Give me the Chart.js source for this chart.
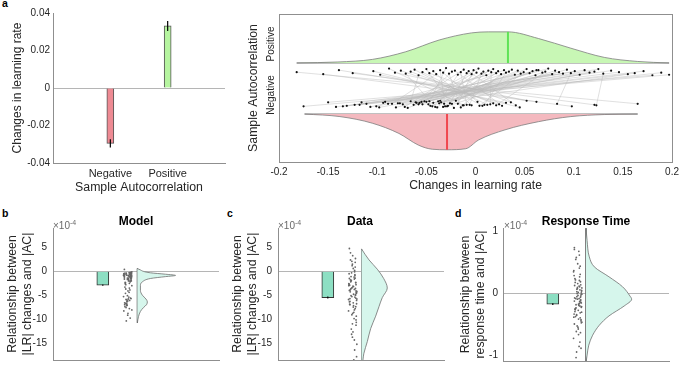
<!DOCTYPE html>
<html>
<head>
<meta charset="utf-8">
<script src="https://cdn.jsdelivr.net/npm/chart.js@4.4.1/dist/chart.umd.min.js"></script>
<style>
  body { margin: 0; background: #fff; width: 683px; height: 372px; position: relative; overflow: hidden;
         font-family: "Liberation Sans", Arial, Helvetica, sans-serif; }
  canvas { position: absolute; }
  .letter { position: absolute; font-weight: bold; font-size: 10.5px; line-height: 10.5px; color: #000; }
  .ttl { position: absolute; font-weight: bold; font-size: 12px; line-height: 12px; color: #000;
         transform: translateX(-50%); white-space: nowrap; }
  .exp { position: absolute; font-size: 10px; line-height: 10px; color: #6a6a6a; white-space: nowrap; }
  .exp sup { font-size: 7px; vertical-align: 4px; }
</style>
</head>
<body>
<div class="letter" style="left:2px;top:-2px">a</div>
<div class="letter" style="left:2px;top:208px">b</div>
<div class="letter" style="left:227px;top:208px">c</div>
<div class="letter" style="left:455px;top:208px">d</div>

<canvas id="a1" width="238" height="196" style="left:0;top:0"></canvas>
<canvas id="a2" width="443" height="200" style="left:240px;top:0"></canvas>
<canvas id="pb" width="228" height="172" style="left:0;top:200px"></canvas>
<canvas id="pc" width="228" height="172" style="left:225px;top:200px"></canvas>
<canvas id="pd" width="228" height="172" style="left:453px;top:200px"></canvas>

<div class="ttl" style="left:136px;top:215px">Model</div>
<div class="ttl" style="left:360px;top:215px">Data</div>
<div class="ttl" style="left:586px;top:215px">Response Time</div>
<div class="exp" style="left:53px;top:218px">&times;10<sup>-4</sup></div>
<div class="exp" style="left:278px;top:218px">&times;10<sup>-4</sup></div>
<div class="exp" style="left:504px;top:218px">&times;10<sup>-4</sup></div>

<script>
// panel a, bars
const acLabels = ['Negative', 'Positive'];
const lrChange = [-0.0295, 0.0331];
const lrErr = [0.0022, 0.0027];

// panel a, raincloud: one entry per subject (positive and negative block)
const posChange = [-0.182, -0.155, -0.139, -0.125, -0.104, -0.097, -0.088, -0.082, -0.076, -0.071,
  -0.066, -0.062, -0.058, -0.054, -0.05, -0.047, -0.043, -0.04, -0.036, -0.033,
  -0.03, -0.027, -0.024, -0.021, -0.018, -0.015, -0.012, -0.009, -0.007, -0.004,
  -0.002, 0.001, 0.003, 0.006, 0.008, 0.011, 0.013, 0.016, 0.018, 0.021,
  0.023, 0.026, 0.029, 0.031, 0.034, 0.037, 0.04, 0.043, 0.046, 0.049,
  0.052, 0.055, 0.058, 0.061, 0.064, 0.068, 0.071, 0.074, 0.078, 0.081,
  0.085, 0.089, 0.093, 0.097, 0.101, 0.106, 0.111, 0.116, 0.121, 0.125,
  0.13, 0.138, 0.146, 0.155, 0.162, 0.171, 0.18, 0.189, 0.197, 0.062];
const negChange = [0.165, 0.098, 0.062, 0.121, 0.045, 0.031, -0.012, 0.052, 0.024, -0.041,
  0.018, 0.007, -0.066, 0.012, -0.022, 0.036, -0.004, -0.085, -0.031, 0.002,
  -0.048, -0.015, -0.057, 0.027, -0.036, -0.009, -0.072, -0.026, 0.041, -0.052,
  -0.018, -0.044, -0.061, -0.006, -0.039, -0.094, -0.028, 0.015, -0.055, -0.033,
  -0.077, -0.013, -0.047, 0.009, -0.069, -0.024, -0.101, -0.035, -0.058, 0.004,
  -0.043, -0.081, -0.02, -0.063, -0.107, -0.037, 0.021, -0.05, -0.089, -0.029,
  -0.074, -0.116, -0.046, 0.083, -0.098, -0.06, -0.123, -0.038, -0.135, -0.079,
  0.123, -0.092, -0.142, -0.054, -0.111, -0.131, -0.15, -0.118, -0.175, -0.032];
const posRow = [1.82, 1.78, 1.86, 1.80, 1.84, 1.77, 1.89, 1.81, 1.85, 1.79,
  1.83, 1.87, 1.76, 1.82, 1.88, 1.80, 1.84, 1.78, 1.86, 1.81,
  1.9, 1.79, 1.83, 1.85, 1.77, 1.82, 1.87, 1.8, 1.84, 1.78,
  1.86, 1.81, 1.89, 1.79, 1.83, 1.76, 1.85, 1.82, 1.88, 1.8,
  1.84, 1.78, 1.86, 1.81, 1.83, 1.87, 1.77, 1.85, 1.79, 1.82,
  1.88, 1.8, 1.84, 1.76, 1.86, 1.81, 1.83, 1.89, 1.78, 1.85,
  1.82, 1.79, 1.87, 1.8, 1.84, 1.77, 1.86, 1.81, 1.83, 1.88,
  1.79, 1.85, 1.82, 1.78, 1.8, 1.84, 1.76, 1.81, 1.77, 1.86];
const negRow = [1.2, 1.15, 1.24, 1.18, 1.13, 1.22, 1.17, 1.26, 1.19, 1.14,
  1.21, 1.16, 1.25, 1.18, 1.12, 1.23, 1.17, 1.2, 1.15, 1.24,
  1.19, 1.13, 1.22, 1.16, 1.26, 1.18, 1.14, 1.21, 1.17, 1.25,
  1.2, 1.15, 1.23, 1.18, 1.13, 1.22, 1.16, 1.19, 1.24, 1.14,
  1.21, 1.17, 1.25, 1.18, 1.12, 1.2, 1.15, 1.23, 1.19, 1.16,
  1.22, 1.13, 1.26, 1.18, 1.14, 1.21, 1.17, 1.24, 1.2, 1.15,
  1.19, 1.23, 1.16, 1.2, 1.13, 1.22, 1.18, 1.25, 1.15, 1.21,
  1.17, 1.24, 1.14, 1.19, 1.2, 1.16, 1.23, 1.18, 1.15, 1.2];
// half violins (density heights)
const posDensX = [-0.182, -0.14, -0.105, -0.071, -0.037, -0.004, 0.013, 0.033, 0.064, 0.097, 0.131, 0.165, 0.197];
const posDens = [0, 0.02, 0.07, 0.22, 0.45, 0.59, 0.61, 0.61, 0.48, 0.29, 0.11, 0.03, 0];
const negDensX = [-0.174, -0.138, -0.105, -0.078, -0.058, -0.044, -0.029, -0.01, 0.003, 0.03, 0.064, 0.097, 0.131, 0.165];
const negDens = [0, 0.05, 0.18, 0.38, 0.61, 0.69, 0.7, 0.68, 0.51, 0.31, 0.15, 0.05, 0.01, 0];
const posMedian = 0.033;
const negMedian = -0.029;

// panels b-d (values in units of 1e-4)
const barMeans = [-2.9, -5.5, -0.17];
const barErrs = [0.12, 0.2, 0.015];
const jitter = [-0.12, 0.05, 0.14, -0.03, 0.09, -0.14, 0.02, 0.11, -0.07, 0.13,
  -0.01, 0.06, -0.1, 0.08, -0.05, 0.12, 0.0, -0.13, 0.04, 0.1,
  -0.08, 0.15, -0.02, 0.07, -0.11, 0.03, 0.13, -0.06, 0.09, -0.15,
  0.01, 0.11, -0.04, 0.14, -0.09, 0.06, -0.12, 0.02, 0.1, -0.07,
  0.12, -0.03, 0.08, -0.14, 0.05, 0.13, -0.01, 0.09, -0.1, 0.03,
  0.15, -0.06, 0.07, -0.12, 0.0, 0.11, -0.08, 0.14, -0.04, 0.06,
  -0.13, 0.02, 0.1, -0.05, 0.12, -0.11, 0.04, 0.08, -0.02, 0.14,
  -0.09, 0.01, 0.11, -0.15, 0.07, -0.06, 0.13, -0.03, 0.09, -0.12,
  0.05, 0.1, -0.08, 0.03, 0.15, -0.01, 0.12, -0.1, 0.06, -0.04];
const modelY = [0.4, -0.3, -1.2, -0.8, -2.1, -0.5, -1.6, -0.9, -2.8, -0.2,
  -1.4, -0.7, -3.3, -1.1, -0.4, -1.9, -6.2, -0.6, -5.4, -1.3,
  -2.4, -0.1, -7.1, -1.0, -6.6, -1.7, -0.3, -5.9, -2.2, -0.8,
  -4.1, -1.5, -6.9, -0.5, -2.6, -7.8, -1.2, -0.9, -5.6, -3.7,
  -1.8, -6.4, -0.6, -8.3, -1.1, -2.0, -5.1, -0.2, -7.4, -1.4,
  -3.0, -0.7, -6.1, -1.6, -9.2, -0.4, -4.6, -1.0, -6.8, -2.5,
  -0.9, -5.8, -1.3, -10.4, -0.5, -7.0, -1.9, -3.9, -6.3, -0.8,
  -2.3, -8.8, -1.2, -5.3, -0.3, -7.6, -1.5, -6.0, -9.8, -1.1,
  -4.4, -0.6, -6.7, -2.0, -8.1, -1.7, -5.7, -0.4, -3.5, -7.2];
const dataY = [4.8, -1.2, -4.5, 2.1, -7.8, -3.0, 0.6, -5.6, -2.2, -9.4,
  1.5, -3.8, -6.3, -0.7, -12.1, -4.1, 3.3, -2.7, -8.6, -5.0,
  -1.8, -15.3, -3.4, 0.2, -6.9, -4.8, -10.7, -2.0, 1.9, -5.9,
  -3.1, -7.4, -0.3, -17.9, -4.3, -8.1, -1.5, -6.6, 2.7, -3.7,
  -11.3, -5.3, -0.9, -2.6, -9.9, -4.6, -13.8, 0.9, -7.0, -3.2,
  -5.8, -1.1, -16.5, -4.0, -8.8, -2.4, 3.9, -6.1, -3.5, -14.4,
  -0.5, -7.5, -4.9, -1.9, -10.2, -2.9, -18.6, -5.4, 1.2, -6.8,
  -3.9, -12.7, -2.3, -8.3, -0.1, -5.1, -4.4, -9.1, -1.4, -6.4,
  -19.0, -3.6, 2.4, -7.2, -4.2, -11.0, -2.8, -5.7, -1.6, -13.2];
const rtY = [0.74, 0.12, -0.21, -0.05, 0.31, -0.38, 0.02, -0.14, 0.55, -0.47,
  -0.09, 0.21, -0.29, 0.06, -0.61, -0.02, 0.16, -0.33, 0.68, -0.11,
  -0.24, 0.09, -0.52, 0.27, -0.07, -0.41, 0.01, -0.18, 0.44, -0.72,
  -0.03, 0.14, -0.35, 0.05, -0.26, 0.62, -0.12, -0.57, 0.19, -0.08,
  -0.44, 0.03, -0.2, 0.37, -0.85, -0.15, 0.08, -0.31, 0.24, -0.66,
  -0.01, -0.23, 0.11, -0.49, 0.48, -0.1, -0.37, 0.04, -0.94, -0.16,
  0.29, -0.27, -0.06, 0.58, -0.42, 0.13, -0.19, -0.78, 0.0, -0.3,
  0.18, -0.54, -0.04, 0.35, -0.13, -1.03, -0.22, 0.07, -0.39, 0.71,
  -0.08, -0.63, 0.22, -0.17, -0.46, 0.1, -0.88, -0.25, 0.41, -0.34];
const modelVioY = [0.6, 0.3, 0.0, -0.3, -0.6, -0.85, -1.1, -1.5, -2.2, -3.0, -4.0, -5.0, -5.8, -6.4, -7.0, -7.6, -8.4, -9.5, -10.8];
const modelVioW = [0, 0.11, 0.22, 0.47, 1.02, 1.38, 1.02, 0.47, 0.18, 0.11, 0.11, 0.18, 0.31, 0.36, 0.33, 0.22, 0.11, 0.04, 0];
const dataVioY = [4.7, 2.4, 0.45, -1.5, -3.5, -5.5, -7.4, -9.4, -12, -14.7, -17.3, -18.6, -19.5];
const dataVioW = [0, 0.27, 0.57, 0.8, 0.93, 0.75, 0.63, 0.51, 0.33, 0.21, 0.08, 0.05, 0.02];
const rtVioY = [1.05, 0.85, 0.59, 0.43, 0.27, 0.11, -0.04, -0.09, -0.2, -0.36, -0.51, -0.67, -0.83, -0.99, -1.085];
const rtVioW = [0, 0.04, 0.12, 0.3, 0.83, 1.32, 1.59, 1.65, 1.38, 0.83, 0.48, 0.24, 0.1, 0.04, 0.01];

const FONT = '"Liberation Sans", Arial, Helvetica, sans-serif';
Chart.defaults.font.family = FONT;
Chart.defaults.font.size = 10;
Chart.defaults.color = '#262626';

const axisCol = '#8f8f8f';
const zeroGrid = c => (c.tick && Math.abs(c.tick.value) < 1e-9) ? '#b5b5b5' : 'rgba(0,0,0,0)';
const base = {
  responsive: false, animation: false, devicePixelRatio: 1,
  plugins: { legend: { display: false }, tooltip: { enabled: false } }
};

// vertical error bars drawn through the y scale
const errPlugin = {
  id: 'errbars',
  afterDatasetsDraw(chart) {
    const ctx = chart.ctx, ys = chart.scales.y;
    chart.data.datasets.forEach((ds, i) => {
      if (!ds.errors) return;
      chart.getDatasetMeta(i).data.forEach((bar, j) => {
        const raw = ds.data[j], e = ds.errors[j];
        if (raw == null || e == null) return;
        const v = typeof raw === 'object' ? raw.y : raw;
        ctx.save();
        ctx.strokeStyle = '#000';
        ctx.lineWidth = 1.2;
        ctx.beginPath();
        ctx.moveTo(bar.x, ys.getPixelForValue(v - e));
        ctx.lineTo(bar.x, ys.getPixelForValue(v + e));
        ctx.stroke();
        ctx.restore();
      });
    });
  }
};

const boxPlugin = {
  id: 'box',
  afterDraw(chart) {
    const a = chart.chartArea, ctx = chart.ctx;
    ctx.save();
    ctx.strokeStyle = axisCol;
    ctx.lineWidth = 1;
    ctx.strokeRect(Math.round(a.left) + 0.5, Math.round(a.top) + 0.5, Math.round(a.width), Math.round(a.height));
    ctx.restore();
  }
};

// ---------- a (left): bar chart ----------
new Chart(document.getElementById('a1'), {
  type: 'bar',
  data: {
    labels: ['', ...acLabels, ''],
    datasets: [{
      data: [null, ...lrChange, null],
      errors: [null, ...lrErr, null],
      backgroundColor: ['#fff', '#ee8a93', '#b6f5a0', '#fff'],
      borderColor: '#555',
      borderWidth: 1,
      barThickness: 7
    }]
  },
  options: {
    ...base,
    layout: { padding: { top: 13, right: 13 } },
    scales: {
      x: {
        offset: false,
        grid: { display: false, drawTicks: false },
        border: { color: axisCol },
        ticks: { font: { size: 11 }, padding: 4, maxRotation: 0, autoSkip: false },
        title: { display: true, text: 'Sample Autocorrelation', font: { size: 12.3 }, padding: { top: 0, bottom: 1 } },
        afterFit: s => { s.height = 33; }
      },
      y: {
        min: -0.04, max: 0.04,
        ticks: { stepSize: 0.02, padding: 3, callback: v => Math.abs(v) < 1e-9 ? '0' : v.toFixed(2) },
        grid: { color: zeroGrid, drawTicks: false },
        border: { color: axisCol },
        title: { display: true, text: 'Changes in learning rate', font: { size: 12 }, padding: { top: 10.5 } },
        afterFit: s => { s.width = 53; }
      }
    }
  },
  plugins: [errPlugin]
});

// ---------- a (right): raincloud ----------
const posDots = posChange.map((x, i) => ({ x, y: posRow[i] }));
const negDots = negChange.map((x, i) => ({ x, y: negRow[i] }));
const pairLines = [];
posChange.forEach((x, i) => {
  pairLines.push({ x, y: posRow[i] }, { x: negChange[i], y: negRow[i] }, { x: null, y: null });
});
const line = (data, color, width, order, extra) => Object.assign({
  type: 'line', data, borderColor: color, borderWidth: width, pointRadius: 0, fill: false, order
}, extra || {});

new Chart(document.getElementById('a2'), {
  type: 'scatter',
  data: {
    datasets: [
      { type: 'scatter', data: posDots, pointRadius: 1.1, backgroundColor: '#111', borderWidth: 0, order: 0 },
      { type: 'scatter', data: negDots, pointRadius: 1.1, backgroundColor: '#111', borderWidth: 0, order: 0 },
      line([{ x: posMedian, y: 2 }, { x: posMedian, y: 2.61 }], '#5fe356', 2, 1),
      line([{ x: negMedian, y: 1 }, { x: negMedian, y: 0.3 }], '#f0474f', 2, 1),
      line(posDensX.map((x, i) => ({ x, y: 2 + posDens[i] })), '#7d7d7d', 0.8, 2,
        { fill: { value: 2 }, backgroundColor: '#c8f7b5', cubicInterpolationMode: 'monotone' }),
      line(negDensX.map((x, i) => ({ x, y: 1 - negDens[i] })), '#7d7d7d', 0.8, 2,
        { fill: { value: 1 }, backgroundColor: '#f4b9bf', cubicInterpolationMode: 'monotone' }),
      line([{ x: posDensX[0], y: 2 }, { x: posDensX[posDensX.length - 1], y: 2 }], '#7d7d7d', 1, 2),
      line([{ x: negDensX[0], y: 1 }, { x: negDensX[negDensX.length - 1], y: 1 }], '#7d7d7d', 1, 2),
      line(pairLines, 'rgba(185,185,185,0.75)', 0.6, 5, { spanGaps: false })
    ]
  },
  options: {
    ...base,
    layout: { padding: { top: 14, right: 8 } },
    scales: {
      x: {
        type: 'linear', min: -0.2, max: 0.2,
        ticks: { stepSize: 0.05, padding: 4, maxRotation: 0, callback: v => String(Number(v.toFixed(2))) },
        grid: { display: false, drawTicks: false },
        border: { color: axisCol },
        title: { display: true, text: 'Changes in learning rate', font: { size: 12.2 }, padding: { top: 0, bottom: 7 } },
        afterFit: s => { s.height = 38; }
      },
      y: {
        type: 'linear', min: 0.06, max: 2.96,
        ticks: {
          stepSize: 1, includeBounds: false, minRotation: 90, maxRotation: 90, crossAlign: 'center',
          padding: -11.75, labelOffset: -19, callback: v => v === 1 ? 'Negative' : v === 2 ? 'Positive' : ''
        },
        grid: { display: false, drawTicks: false },
        border: { color: axisCol },
        title: { display: true, text: 'Sample Autocorrelation', font: { size: 12.3 }, padding: { top: 6.6 } },
        afterFit: s => { s.width = 39; }
      }
    }
  },
  plugins: [boxPlugin]
});

// ---------- b, c, d ----------
function smallPanel(id, idx, ys, vioY, vioW, vioBase, yMin, yMax, step, yTitle, yAxisW, tickPad) {
  const dots = ys.map((y, i) => ({ x: 2.7 + jitter[i], y }));
  const violin = vioY.map((y, i) => ({ x: vioBase + vioW[i], y }));
  new Chart(document.getElementById(id), {
    type: 'scatter',
    data: {
      datasets: [
        { type: 'bar', data: [{ x: 1.8, y: barMeans[idx] }], errors: [barErrs[idx]],
          backgroundColor: '#8ddfc3', borderColor: '#333', borderWidth: 1, barThickness: 12, order: 1 },
        { type: 'scatter', data: dots, pointRadius: 0.9, backgroundColor: '#666', borderWidth: 0, order: 0 },
        line(violin, '#6f6f6f', 0.8, 2, { indexAxis: 'y', fill: { value: vioBase }, backgroundColor: '#d6f6ec',
          cubicInterpolationMode: 'monotone' }),
        line([{ x: vioBase, y: vioY[0] }, { x: vioBase, y: vioY[vioY.length - 1] }], '#6f6f6f', 1, 2)
      ]
    },
    options: {
      ...base,
      layout: { padding: { top: 28, right: 228 - yAxisW - 166 } },
      scales: {
        x: {
          type: 'linear', min: 0, max: 6, offset: false,
          ticks: { display: false },
          grid: { display: false, drawTicks: false, offset: false },
          border: { color: axisCol },
          afterFit: s => { s.height = 4; }
        },
        y: {
          min: yMin, max: yMax,
          ticks: { stepSize: step, includeBounds: false, padding: tickPad },
          grid: { color: zeroGrid, drawTicks: false },
          border: { color: axisCol },
          title: { display: true, text: yTitle, font: { size: 12.3 }, padding: { top: 5 } },
          afterFit: s => { s.width = yAxisW; }
        }
      }
    },
    plugins: [errPlugin]
  });
}

smallPanel('pb', 0, modelY, modelVioY, modelVioW, 3.05, -18.6, 9.1, 5,
  ['Relationship between', '|LR| changes and |AC|'], 53, 6);
smallPanel('pc', 1, dataY, dataVioY, dataVioW, 3.02, -18.6, 9.1, 5,
  ['Relationship between', '|LR| changes and |AC|'], 53, 6);
smallPanel('pd', 2, rtY, rtVioY, rtVioW, 3.0, -1.085, 1.055, 1,
  ['Relationship between', 'response time and |AC|'], 50, 5);
</script>
</body>
</html>
